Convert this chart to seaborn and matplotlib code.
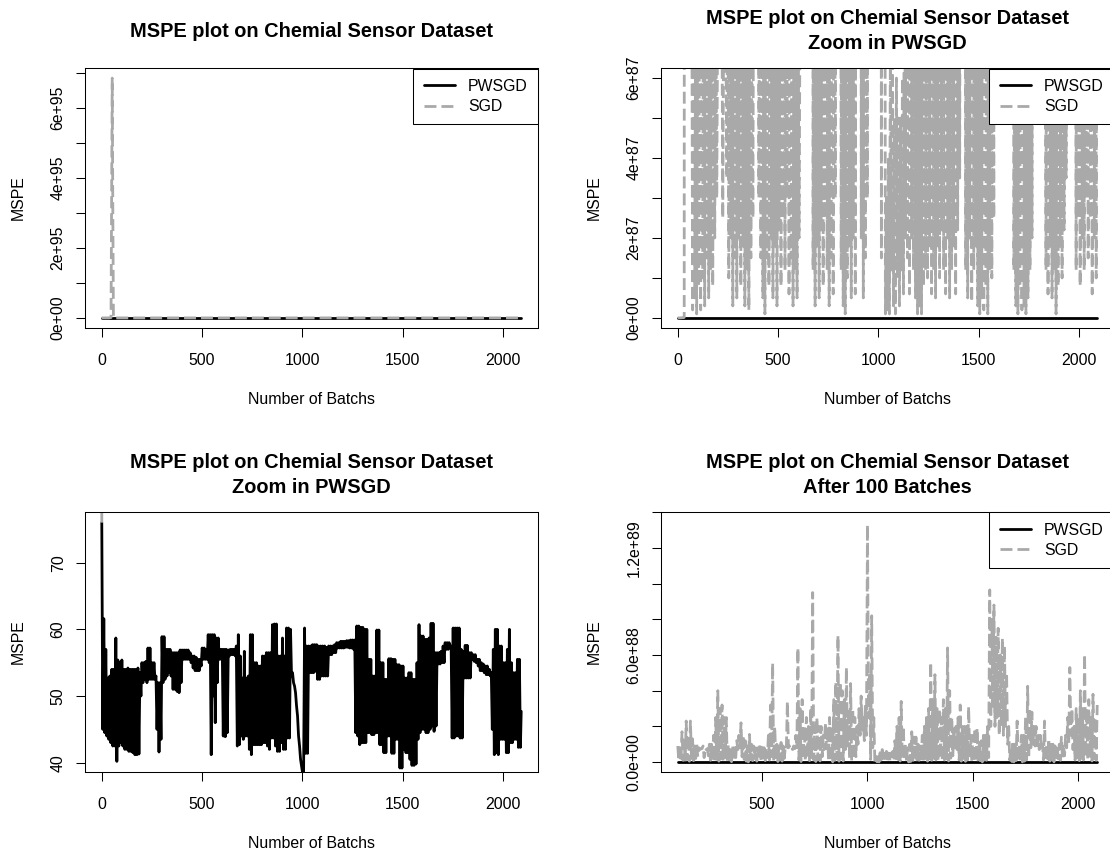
import matplotlib
matplotlib.use("Agg")
import matplotlib.pyplot as plt
import pandas as pd
import seaborn as sns

# PWSGD MSPE: upper and lower edge of the trace
# in each 10-batch bin starting at batch 1, 11, ..., 2081
pwsgd_bin_start = list(range(1, 2082, 10))
pwsgd_high = [
    76.0, 61.6, 57.0, 52.7, 53.0, 54.0, 54.0, 58.7, 55.4, 55.0,   # 1-91
    55.4, 54.0, 54.0, 54.2, 54.0, 54.0, 54.0, 54.0, 54.2, 53.5,   # 101-191
    55.0, 55.0, 55.2, 57.2, 57.2, 55.0, 55.0, 53.0, 52.0, 52.0,   # 201-291
    58.9, 58.9, 57.0, 57.0, 57.0, 56.5, 56.5, 56.5, 56.5, 56.9,   # 301-391
    56.9, 56.9, 56.9, 56.9, 56.5, 56.0, 56.0, 55.8, 55.5, 55.5,   # 401-491
    57.2, 57.2, 57.0, 59.2, 59.2, 59.2, 59.2, 58.7, 58.7, 57.0,   # 501-591
    57.0, 57.0, 57.0, 56.9, 57.0, 57.0, 57.0, 57.5, 59.2, 56.0,   # 601-691
    52.7, 56.7, 52.7, 53.0, 59.2, 59.2, 55.0, 55.0, 54.5, 54.5,   # 701-791
    56.0, 56.0, 56.5, 56.5, 56.5, 60.7, 60.8, 60.8, 56.0, 56.0,   # 801-891
    58.7, 56.0, 60.2, 60.2, 60.0, 53.5, 51.5, 48.5, 44.0, 40.5,   # 901-991
    38.5, 60.2, 57.5, 57.5, 57.5, 57.7, 57.7, 57.7, 57.5, 57.5,   # 1001-1091
    57.5, 57.5, 57.3, 57.5, 57.5, 57.5, 57.7, 58.0, 58.0, 58.2,   # 1101-1191
    58.2, 58.2, 58.3, 58.3, 58.4, 58.4, 58.4, 60.5, 60.5, 60.3,   # 1201-1291
    60.3, 60.0, 60.0, 55.5, 55.5, 53.0, 53.0, 59.9, 59.9, 55.0,   # 1301-1391
    55.0, 52.5, 52.5, 55.6, 55.6, 55.5, 55.5, 54.7, 54.7, 54.5,   # 1401-1491
    54.5, 52.7, 52.7, 53.5, 53.5, 52.5, 52.5, 55.0, 60.7, 59.0,   # 1501-1591
    59.0, 58.5, 58.5, 58.7, 60.9, 60.9, 56.5, 56.5, 56.5, 56.7,   # 1601-1691
    57.5, 58.0, 58.0, 58.0, 57.5, 60.2, 60.2, 60.2, 60.2, 57.0,   # 1701-1791
    56.7, 57.6, 57.6, 56.5, 56.5, 56.2, 56.2, 55.5, 55.5, 55.0,   # 1801-1891
    54.8, 54.5, 54.5, 54.0, 53.5, 57.0, 60.0, 60.0, 57.5, 57.5,   # 1901-1991
    55.0, 55.0, 57.0, 60.0, 55.0, 53.5, 53.5, 55.5, 55.5,         # 2001-2081
]
pwsgd_low = [
    45.0, 44.5, 44.0, 43.5, 43.0, 42.5, 42.5, 40.2, 42.5, 43.0,   # 1-91
    42.5, 42.0, 42.0, 41.7, 41.7, 41.5, 41.2, 41.2, 41.3, 50.0,   # 101-191
    52.0, 52.5, 52.0, 52.5, 52.5, 52.5, 52.5, 45.0, 41.6, 43.5,   # 201-291
    52.0, 52.5, 53.0, 53.5, 53.0, 51.0, 51.0, 50.7, 50.5, 52.0,   # 301-391
    55.5, 55.5, 55.5, 55.5, 55.0, 54.2, 53.8, 53.8, 53.8, 54.5,   # 401-491
    55.5, 55.5, 55.5, 55.0, 41.2, 50.0, 46.0, 52.0, 55.5, 55.5,   # 501-591
    44.0, 43.9, 44.5, 56.0, 56.2, 56.2, 56.0, 42.5, 42.7, 44.0,   # 601-691
    43.5, 44.0, 44.0, 42.0, 41.2, 42.7, 42.7, 42.7, 42.7, 42.7,   # 701-791
    43.0, 43.0, 42.5, 42.0, 43.7, 43.7, 42.5, 41.7, 41.7, 43.0,   # 801-891
    42.0, 42.0, 43.7, 43.7, 53.0, 52.0, 50.5, 47.0, 42.5, 39.5,   # 901-991
    38.0, 41.4, 41.4, 53.5, 53.5, 53.5, 53.7, 52.5, 52.5, 53.0,   # 1001-1091
    53.0, 53.0, 53.0, 56.2, 56.2, 56.5, 56.5, 57.2, 57.2, 57.2,   # 1101-1191
    57.2, 57.3, 57.3, 57.2, 57.2, 57.0, 44.5, 44.0, 42.7, 43.0,   # 1201-1291
    43.0, 43.0, 44.5, 44.5, 44.2, 44.2, 44.5, 44.5, 42.7, 42.7,   # 1301-1391
    41.5, 41.5, 44.0, 44.0, 41.4, 41.4, 43.5, 43.5, 39.2, 39.2,   # 1401-1491
    42.0, 41.5, 41.5, 40.5, 39.6, 39.6, 39.8, 43.5, 44.5, 45.0,   # 1501-1591
    45.0, 44.5, 44.5, 45.0, 45.5, 44.7, 45.5, 54.8, 54.8, 55.0,   # 1601-1691
    55.0, 57.0, 57.0, 57.2, 43.7, 43.7, 44.0, 44.0, 43.7, 43.7,   # 1701-1791
    52.7, 52.7, 52.7, 52.7, 55.5, 55.2, 55.0, 54.5, 53.8, 53.8,   # 1801-1891
    53.5, 53.2, 53.2, 53.0, 45.0, 41.2, 41.5, 41.2, 43.5, 43.5,   # 1901-1991
    43.5, 41.5, 41.5, 43.0, 43.0, 43.5, 43.5, 42.3, 42.3,         # 2001-2081
]
pwsgd_last_batch = 2090
pwsgd_last_mspe = 47.7

# SGD: the blow-up in the first batches
sgd_early_batch = [1, 10, 33, 37, 47, 53, 56, 59, 66]
sgd_early_mspe = [76.0, 1e80, 1e85, 8e88, 1e93, 6.85e95, 3.0e95, 1e91, 2e88]

# SGD afterwards (units of 1e88): upper and lower edge in each 10-batch bin from 70 to 2080
sgd_bin_start = list(range(70, 2081, 10))
sgd_high_e88 = [
    1.00, 1.20, 0.80, 0.90, 1.00, 1.70, 1.20, 2.30, 1.50, 2.30,   # 70-160
    1.30, 0.90, 1.00, 0.80, 0.75, 0.90, 0.80, 0.75, 1.00, 1.00,   # 170-260
    1.50, 2.50, 4.00, 3.00, 3.20, 2.50, 2.50, 1.00, 0.70, 0.90,   # 270-360
    0.80, 1.20, 1.50, 2.20, 1.50, 1.20, 0.90, 1.55, 1.00, 0.90,   # 370-460
    0.80, 0.80, 1.00, 1.00, 0.80, 0.80, 1.50, 3.20, 5.55, 2.00,   # 470-560
    1.00, 0.90, 1.10, 0.90, 0.80, 3.40, 0.90, 0.80, 0.90, 1.50,   # 570-660
    6.40, 3.00, 3.50, 2.00, 2.50, 2.00, 3.00, 9.50, 2.00, 2.50,   # 670-760
    2.00, 2.00, 1.50, 2.20, 2.00, 2.50, 2.00, 3.50, 4.50, 7.10,   # 770-860
    4.50, 4.00, 3.50, 5.30, 3.00, 4.40, 3.00, 2.50, 2.00, 3.00,   # 870-960
    3.70, 2.50, 3.20, 13.30, 5.00, 8.20, 2.50, 0.30, 0.40, 0.70,  # 970-1060
    0.70, 0.50, 0.60, 0.50, 0.50, 0.60, 1.20, 2.00, 2.50, 3.40,   # 1070-1160
    2.00, 1.00, 0.80, 1.00, 1.70, 1.40, 1.40, 1.00, 0.90, 1.50,   # 1170-1260
    2.00, 2.50, 3.00, 5.60, 3.50, 4.90, 3.00, 3.00, 2.50, 3.50,   # 1270-1360
    3.00, 6.40, 4.00, 2.50, 2.00, 2.00, 2.50, 3.20, 2.00, 2.00,   # 1370-1460
    2.00, 3.10, 1.50, 1.50, 1.90, 1.90, 1.20, 1.20, 1.50, 1.50,   # 1470-1560
    2.00, 9.65, 8.00, 8.80, 7.00, 7.50, 6.00, 6.95, 6.50, 5.00,   # 1570-1660
    2.00, 0.80, 1.20, 1.00, 2.30, 1.00, 1.50, 1.50, 2.50, 4.25,   # 1670-1760
    3.00, 2.80, 2.00, 2.00, 1.50, 1.50, 1.00, 2.30, 1.00, 1.30,   # 1770-1860
    1.00, 1.00, 0.90, 0.90, 1.00, 1.40, 1.00, 1.50, 2.50, 5.30,   # 1870-1960
    3.00, 2.00, 3.00, 2.50, 4.00, 3.00, 6.05, 3.00, 3.50, 2.50,   # 1970-2060
    3.80, 2.50,                                                   # 2070-2080
]
sgd_low_e88 = [
    0.02, 0.05, 0.01, 0.08, 0.02, 0.10, 0.03, 0.15, 0.05, 0.12,   # 70-160
    0.08, 0.20, 0.30, 0.70, 0.75, 0.25, 0.70, 0.35, 0.10, 0.20,   # 170-260
    0.03, 0.15, 0.05, 0.20, 0.08, 0.18, 0.03, 0.12, 0.02, 0.15,   # 270-360
    0.25, 0.70, 0.80, 0.30, 0.15, 0.05, 0.01, 0.15, 0.08, 0.20,   # 370-460
    0.05, 0.18, 0.03, 0.22, 0.08, 0.25, 0.12, 0.30, 0.06, 0.15,   # 470-560
    0.03, 0.12, 0.05, 0.20, 0.70, 0.80, 0.70, 0.70, 0.75, 0.80,   # 570-660
    0.12, 0.03, 0.18, 0.05, 0.22, 0.08, 0.25, 0.12, 0.03, 0.15,   # 670-760
    0.06, 0.30, 0.70, 0.75, 0.12, 0.03, 0.01, 0.10, 0.18, 0.05,   # 770-860
    0.20, 0.06, 0.70, 0.90, 0.20, 0.05, 0.15, 0.30, 1.00, 1.50,   # 870-960
    1.80, 1.20, 1.50, 2.50, 0.15, 0.80, 0.01, 0.02, 0.01, 0.12,   # 970-1060
    0.03, 0.01, 0.10, 0.03, 0.12, 0.06, 0.20, 0.15, 0.06, 0.20,   # 1070-1160
    0.12, 0.05, 0.01, 0.03, 0.01, 0.08, 0.12, 0.10, 0.18, 0.06,   # 1170-1260
    0.12, 0.05, 0.18, 0.10, 0.22, 0.12, 0.06, 0.20, 0.05, 0.12,   # 1270-1360
    0.18, 0.06, 0.22, 0.35, 0.80, 0.70, 0.12, 0.05, 0.20, 0.04,   # 1370-1460
    0.12, 0.18, 0.03, 0.01, 0.05, 0.02, 0.08, 0.01, 0.12, 0.10,   # 1470-1560
    0.25, 2.00, 3.00, 2.00, 2.50, 1.50, 2.00, 1.50, 2.00, 1.00,   # 1570-1660
    0.12, 0.03, 0.01, 0.08, 0.02, 0.03, 0.01, 0.05, 0.12, 0.20,   # 1670-1760
    0.80, 1.00, 0.90, 0.80, 0.70, 0.75, 0.12, 0.06, 0.18, 0.05,   # 1770-1860
    0.12, 0.01, 0.08, 0.18, 0.10, 0.22, 0.35, 0.80, 1.00, 1.50,   # 1870-1960
    0.70, 0.12, 0.25, 0.08, 0.20, 0.12, 0.30, 0.15, 0.25, 0.06,   # 1970-2060
    0.20, 0.10,                                                   # 2070-2080
]
sgd_last_batch = 2090
sgd_last_e88 = 3.20

x_ticks = [0, 500, 1000, 1500, 2000]
x_ticks_late = [500, 1000, 1500, 2000]
y_ticks_full = [0, 1e95, 2e95, 3e95, 4e95, 5e95, 6e95, 7e95]
y_labels_full = ["0e+00", "", "2e+95", "", "4e+95", "", "6e+95", ""]
y_ticks_zoom = [0, 1e87, 2e87, 3e87, 4e87, 5e87, 6e87]
y_labels_zoom = ["0e+00", "", "2e+87", "", "4e+87", "", "6e+87"]
y_ticks_pw = [40, 50, 60, 70]
y_labels_pw = ["40", "50", "60", "70"]
y_ticks_late = [0, 2e88, 4e88, 6e88, 8e88, 1e89, 1.2e89, 1.4e89]
y_labels_late = ["0.0e+00", "", "", "6.0e+88", "", "", "1.2e+89", ""]

title = "MSPE plot on Chemial Sensor Dataset"

# each bin: its upper edge at the bin start, its lower edge half a bin later
pw_x, pw_y = [], []
for b, hi, lo in zip(pwsgd_bin_start, pwsgd_high, pwsgd_low):
    pw_x += [b, b + 5]
    pw_y += [hi, lo]
pw = pd.DataFrame({"batch": pw_x + [pwsgd_last_batch], "mspe": pw_y + [pwsgd_last_mspe]})

sg_x, sg_y = list(sgd_early_batch), list(sgd_early_mspe)
for b, hi, lo in zip(sgd_bin_start, sgd_high_e88, sgd_low_e88):
    sg_x += [b, b + 5]
    sg_y += [hi * 1e88, lo * 1e88]
sgd = pd.DataFrame({"batch": sg_x + [sgd_last_batch], "mspe": sg_y + [sgd_last_e88 * 1e88]})

sns.set_style("ticks", {"axes.edgecolor": "black", "xtick.color": "black",
                        "ytick.color": "black", "text.color": "black"})
plt.rcParams["font.family"] = ["Liberation Sans", "DejaVu Sans"]
plt.rcParams["path.simplify"] = False

W, H = 1110, 856
FS = 11.4      # tick / axis label size (pt)
TS = 14.4      # title size (pt)
GRAY = "#a9a9a9"

fig = plt.figure(figsize=(W / 100, H / 100), dpi=100)


def add_box(left, top, right, bottom):
    return fig.add_axes([left / W, 1 - bottom / H, (right - left) / W, (bottom - top) / H])


def panel(ax, box, xlim, ylim, xt, yt, yl, lines, with_legend, pw_df, sgd_df):
    left, top, right, bottom = box
    clip_top = ylim[1] + 100 * (ylim[1] - ylim[0])
    sns.lineplot(data=pw_df, x="batch", y="mspe", ax=ax, color="black", linewidth=2.0,
                 estimator=None, sort=False, legend=False, label="PWSGD")
    sns.lineplot(x=sgd_df["batch"], y=sgd_df["mspe"].clip(upper=clip_top), ax=ax,
                 color=GRAY, linewidth=2.0, linestyle=(0, (4.3, 1.8)),
                 estimator=None, sort=False, legend=False, label="SGD")
    ax.set_xlim(xlim)
    ax.set_ylim(ylim)
    ax.set_xticks(xt, [str(t) for t in xt])
    ax.set_yticks(yt, yl, rotation=90, rotation_mode="anchor", ha="center", va="center_baseline")
    ax.tick_params(axis="x", direction="out", length=6.8, width=0.75, pad=11.3, labelsize=FS)
    ax.tick_params(axis="y", direction="out", length=6.8, width=0.75, pad=13.6, labelsize=FS)
    for s in ax.spines.values():
        s.set_visible(True)
        s.set_linewidth(0.75)
        s.set_color("black")
    ax.set_xlabel("")
    ax.set_ylabel("")
    if with_legend:
        leg = ax.legend(loc="upper right", borderaxespad=0, fancybox=False, framealpha=1,
                        edgecolor="black", fontsize=FS, handlelength=2.0, handletextpad=0.8,
                        borderpad=0.65, labelspacing=0.34)
        leg.get_frame().set_linewidth(0.75)
    elif ax.get_legend() is not None:
        ax.get_legend().remove()

    cx = (left + right) / 2
    if len(lines) == 1:
        fig.text(cx / W, 1 - (top - 39.3) / H, lines[0], ha="center", va="center_baseline",
                 fontsize=TS, fontweight="bold")
    else:
        fig.text(cx / W, 1 - (top - 51.5) / H, lines[0], ha="center", va="center_baseline",
                 fontsize=TS, fontweight="bold")
        fig.text(cx / W, 1 - (top - 27.0) / H, lines[1], ha="center", va="center_baseline",
                 fontsize=TS, fontweight="bold")
    fig.text(cx / W, 1 - (bottom + 70.8) / H, "Number of Batchs", ha="center",
             va="center_baseline", fontsize=FS)
    fig.text((left - 68.7) / W, 1 - ((top + bottom) / 2) / H, "MSPE", rotation=90,
             rotation_mode="anchor", ha="center", va="center_baseline", fontsize=FS)


box1 = (85, 68.5, 538, 327.5)
box2 = (661, 68.5, 1114, 327.5)
box3 = (85, 512.3, 538, 771.7)
box4 = (661, 512.3, 1114, 771.7)

ax1 = add_box(*box1)
panel(ax1, box1, (-82.6, 2173.6), (-0.274e95, 7.124e95), x_ticks, y_ticks_full, y_labels_full,
      [title], True, pw, sgd)

ax2 = add_box(*box2)
panel(ax2, box2, (-82.6, 2173.6), (-0.24e87, 6.24e87), x_ticks, y_ticks_zoom, y_labels_zoom,
      [title, "Zoom in PWSGD"], True, pw, sgd)

ax3 = add_box(*box3)
panel(ax3, box3, (-82.6, 2173.6), (38.65, 77.55), x_ticks, y_ticks_pw, y_labels_pw,
      [title, "Zoom in PWSGD"], False, pw, sgd)

ax4 = add_box(*box4)
panel(ax4, box4, (20.4, 2169.6), (-0.054e89, 1.40e89), x_ticks_late, y_ticks_late, y_labels_late,
      [title, "After 100 Batches"], True,
      pw[pw["batch"] >= 100], sgd[sgd["batch"] >= 100])

fig.savefig("out.png", dpi=100, facecolor="white")
